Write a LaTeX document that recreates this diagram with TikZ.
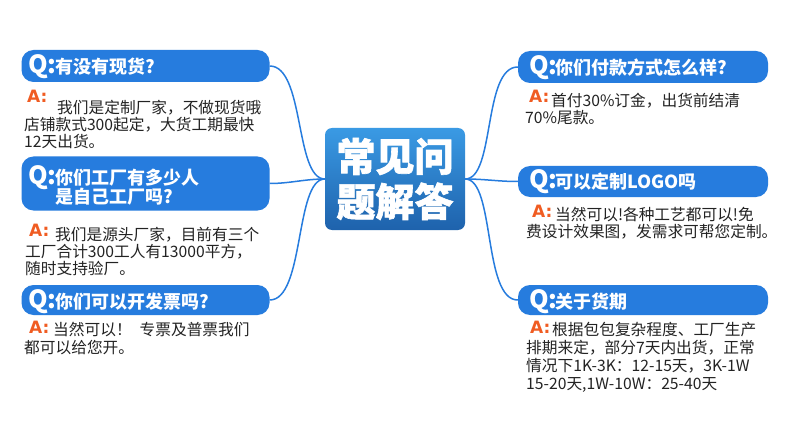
\documentclass[tikz,border=0pt]{standalone}
\usepackage{fontspec}
\setmainfont{Noto Sans CJK SC}
\newfontfamily\latinbold{DejaVu Sans}
\newfontfamily\titlefont{Noto Sans CJK SC}[BoldFeatures={FakeBold=1.5}]
\usetikzlibrary{calc}
\definecolor{qblue}{RGB}{38,124,222}
\definecolor{boxtop}{RGB}{58,154,228}
\definecolor{boxbot}{RGB}{30,98,172}
\definecolor{aorange}{RGB}{240,92,34}
\definecolor{ansgray}{RGB}{35,35,35}

\begin{document}
\begin{tikzpicture}[x=1pt,y=-1pt,
  qbox/.style={fill=qblue,rounded corners=12pt,minimum width=248pt,inner sep=0pt},
  qmark/.style={anchor=base west,inner sep=0pt,text=white,font=\fontsize{25}{25}\selectfont\bfseries},
  qtext/.style={anchor=base west,inner sep=0pt,text=white,font=\fontsize{18}{18}\selectfont\bfseries},
  amark/.style={anchor=base west,inner sep=0pt,text=aorange,font=\latinbold\bfseries\fontsize{17}{17}\selectfont},
  answer/.style={anchor=north west,inner sep=0pt,align=left,text=ansgray,font=\fontsize{15.7}{17}\selectfont},
  link/.style={draw=qblue,line width=1.5pt}]
  \path[fill=white] (0,0) rectangle (790,441);

  \node[top color=boxtop,bottom color=boxbot,rounded corners=7pt,minimum width=140pt,minimum height=102pt,
        text=white,align=center,font=\titlefont\bfseries\fontsize{39}{45}\selectfont] (faq) at (395,179) {常见问\\题解答};

  % left questions
  \node[qbox,minimum height=32pt] (q1) at (145.5,66) {};
  \node[qbox,minimum height=54pt] (q2) at (145.5,183.5) {};
  \node[qbox,minimum height=30pt] (q3) at (145.5,300) {};
  % right questions
  \node[qbox,minimum width=250pt,minimum height=32pt] (q4) at (643,67) {};
  \node[qbox,minimum width=250pt,minimum height=31pt] (q5) at (643,181.5) {};
  \node[qbox,minimum width=250pt,minimum height=30pt] (q6) at (643,300) {};

  \draw[link] (faq.west) .. controls +(-30,0) and +(35,0) .. (q1.east);
  \draw[link] (faq.west) .. controls +(-20,0) and +(20,0) .. (q2.east);
  \draw[link] (faq.west) .. controls +(-30,0) and +(35,0) .. (q3.east);
  \draw[link] (faq.east) .. controls +(30,0) and +(-35,0) .. (q4.west);
  \draw[link] (faq.east) .. controls +(20,0) and +(-20,0) .. (q5.west);
  \draw[link] (faq.east) .. controls +(30,0) and +(-35,0) .. (q6.west);

  \node[qmark] (q1m) at (28,74) {Q:};
  \node[qtext] (q1t) at (55,74) {有没有现货?};
  \node[qmark] (q2m) at (28,185) {Q:};
  \node[qtext] (q2t) at (55,185) {你们工厂有多少人};
  \node[qtext] (q2u) at (55,203) {是自己工厂吗?};
  \node[qmark] (q3m) at (28,308) {Q:};
  \node[qtext] (q3t) at (55,308) {你们可以开发票吗?};
  \node[qmark] (q4m) at (529,75) {Q:};
  \node[qtext] (q4t) at (555,75) {你们付款方式怎么样?};
  \node[qmark] (q5m) at (529,189) {Q:};
  \node[qtext] (q5t) at (555,189) {可以定制LOGO吗};
  \node[qmark] (q6m) at (529,308) {Q:};
  \node[qtext] (q6t) at (555,308) {关于货期};

  \node[amark] (a1m) at (27,103) {A:};
  \node[answer] (a1) at (24,100) {\hspace*{33pt}我们是定制厂家，不做现货哦\\店铺款式300起定，大货工期最快\\12天出货。};
  \node[amark] (a2m) at (29,236) {A:};
  \node[answer] (a2) at (25,227) {\hspace*{30pt}我们是源头厂家，目前有三个\\工厂合计300工人有13000平方，\\随时支持验厂。};
  \node[amark] (a3m) at (29,333) {A:};
  \node[answer,font=\fontsize{15.7}{18}\selectfont] (a3) at (24,322) {\hspace*{29pt}当然可以！\hspace{8pt}专票及普票我们\\都可以给您开。};
  \node[amark] (a4m) at (529,103) {A:};
  \node[answer] (a4) at (525,93) {\hspace*{26pt}首付30\%订金，出货前结清\\70\%尾款。};
  \node[amark] (a5m) at (532,217) {A:};
  \node[answer,font=\fontsize{15.7}{16.5}\selectfont] (a5) at (526,207) {\hspace*{29pt}当然可以!各种工艺都可以!免\\费设计效果图，发需求可帮您定制。};
  \node[amark] (a6m) at (530,333) {A:};
  \node[answer,font=\fontsize{15.7}{18}\selectfont] (a6) at (526,322) {\hspace*{26pt}根据包包复杂程度、工厂生产\\排期来定，部分7天内出货，正常\\情况下1K-3K：12-15天，3K-1W\\15-20天,1W-10W：25-40天};
\end{tikzpicture}
\end{document}
